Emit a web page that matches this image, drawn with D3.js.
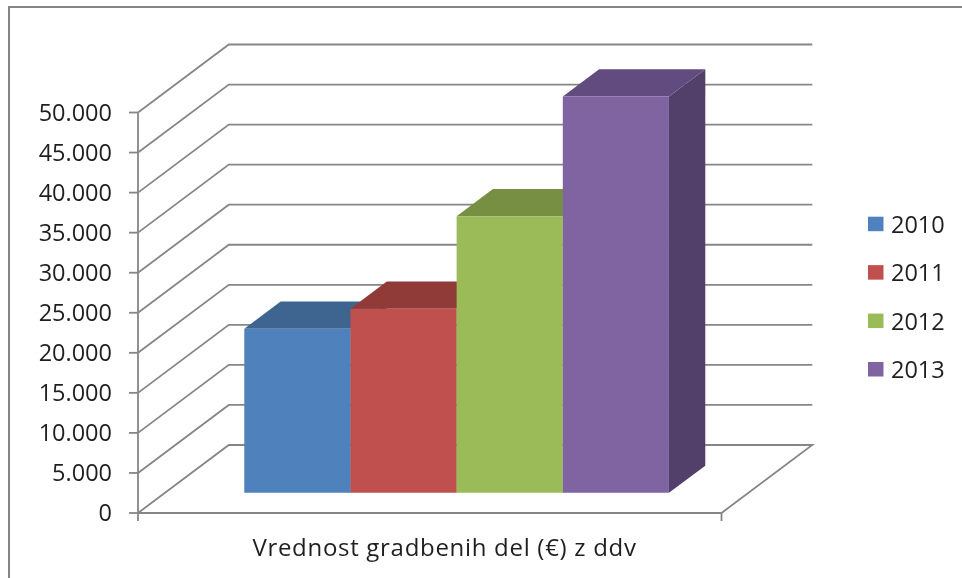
<!DOCTYPE html>
<html>
<head>
<meta charset="utf-8">
<script src="https://cdn.jsdelivr.net/npm/d3@7"></script>
<style>
html, body { margin: 0; padding: 0; background: #fff; overflow: hidden; }
text { font-family: "Open Sans", sans-serif; fill: #1f1f1f; }
svg { filter: blur(0.4px); }
</style>
</head>
<body>
<div id="chart"></div>
<script>
const years = ["2010", "2011", "2012", "2013"]
const values = [20500, 23000, 34550, 49500]
const frontColors = ["#4f81bd", "#c0504d", "#9bbb59", "#8064a2"]
const topColors = ["#3e6490", "#913b39", "#778f42", "#624b7e"]
const sideColors = ["#355578", "#7a3130", "#637838", "#53406a"]
const yTicks = [0, 5000, 10000, 15000, 20000, 25000, 30000, 35000, 40000, 45000, 50000]
const axisTitle = "Vrednost gradbenih del (€) z ddv"

const WIDTH = 962
const HEIGHT = 578
const GREY = "#868686"
const LINE = 1.8
const FONT = 23.5

const svg = d3.select("#chart")
    .append("svg")
    .attr("width", WIDTH)
    .attr("height", HEIGHT)
    .style("display", "block")

// chart frame, only left and top edges are inside the picture
svg.append("path")
    .attr("d", `M9,${HEIGHT + 5} V7 H${WIDTH + 5}`)
    .attr("fill", "none")
    .attr("stroke", "#868686")
    .attr("stroke-width", 2)

const xScale = d3.scaleBand()
    .domain(years)
    .range([138, 721.5])
    .paddingInner(0)
    .paddingOuter(0.748)

const yScale = d3.scaleLinear()
    .domain([0, 50000])
    .range([513, 112.5])

// depth 0 is the front of the floor, depth 1 the back wall
const depthX = d3.scaleLinear().domain([0, 1]).range([0, 90.8])
const depthY = d3.scaleLinear().domain([0, 1]).range([0, -68])
const BAR_FRONT = 0.296
const BAR_BACK = 0.696

function point(x, value, depth) {
    return [x + depthX(depth), yScale(value) + depthY(depth)]
}

const polyLine = d3.line()
const [xLeft, xRight] = xScale.range()

// walls: from the axis back to the wall and along it
svg.append("g")
    .selectAll("path")
    .data(yTicks)
    .join("path")
    .attr("d", d => polyLine(d === 0
        ? [point(xLeft, 0, 0), point(xLeft, 0, 1), point(xRight, 0, 1), point(xRight, 0, 0)]
        : [point(xLeft, d, 0), point(xLeft, d, 1), point(xRight, d, 1)]))
    .attr("fill", "none")
    .attr("stroke", GREY)
    .attr("stroke-width", LINE)

const fmt = d3.formatLocale({decimal: ",", thousands: ".", grouping: [3], currency: ["", ""]}).format(",")

const yAxis = d3.axisLeft(yScale)
    .tickValues(yTicks)
    .tickFormat(fmt)
    .tickSize(9)
    .tickSizeOuter(0)
    .tickPadding(17)
    .offset(0)

const yG = svg.append("g")
    .attr("transform", `translate(${xLeft}, 0)`)
    .call(yAxis)
yG.attr("font-family", null)
yG.selectAll("text").attr("font-size", FONT).attr("dy", "0.36em")
yG.selectAll("line, path").attr("stroke", GREY).attr("stroke-width", LINE)

const xAxis = d3.axisBottom(d3.scaleLinear().domain(xScale.range()).range(xScale.range()))
    .tickValues(xScale.range())
    .tickFormat("")
    .tickSize(8)
    .tickSizeOuter(0)
    .offset(0)

const xG = svg.append("g")
    .attr("transform", `translate(0, ${yScale(0)})`)
    .call(xAxis)
xG.selectAll("line, path").attr("stroke", GREY).attr("stroke-width", LINE)

// bars, left to right so each one covers the side of the one before
const bars = svg.append("g")
    .selectAll("g")
    .data(years.map((year, i) => ({year, value: values[i], i})))
    .join("g")

function poly(pts) {
    return polyLine(pts) + "Z"
}

bars.append("path")
    .attr("fill", d => sideColors[d.i])
    .attr("d", d => {
        const x = xScale(d.year) + xScale.bandwidth()
        return poly([point(x, 0, BAR_FRONT), point(x, 0, BAR_BACK), point(x, d.value, BAR_BACK), point(x, d.value, BAR_FRONT)])
    })

bars.append("path")
    .attr("fill", d => topColors[d.i])
    .attr("d", d => {
        const x0 = xScale(d.year)
        const x1 = x0 + xScale.bandwidth()
        return poly([point(x0, d.value, BAR_FRONT), point(x0, d.value, BAR_BACK), point(x1, d.value, BAR_BACK), point(x1, d.value, BAR_FRONT)])
    })

bars.append("path")
    .attr("fill", d => frontColors[d.i])
    .attr("d", d => {
        const x0 = xScale(d.year)
        const x1 = x0 + xScale.bandwidth()
        return poly([point(x0, 0, BAR_FRONT), point(x0, d.value, BAR_FRONT), point(x1, d.value, BAR_FRONT), point(x1, 0, BAR_FRONT)])
    })

svg.append("text")
    .attr("x", 444.5)
    .attr("y", 556)
    .attr("text-anchor", "middle")
    .attr("font-size", 24)
    .attr("letter-spacing", 0.7)
    .text(axisTitle)

// legend
const legendY = d3.scalePoint().domain(years).range([223.7, 369])

const legend = svg.append("g")
    .selectAll("g")
    .data(years)
    .join("g")
    .attr("transform", d => `translate(868, ${legendY(d)})`)

legend.append("rect")
    .attr("y", -7)
    .attr("width", 15.5)
    .attr("height", 14.5)
    .attr("fill", (d, i) => frontColors[i])

legend.append("text")
    .attr("x", 23)
    .attr("y", 9)
    .attr("font-size", FONT)
    .text(d => d)
</script>
</body>
</html>
